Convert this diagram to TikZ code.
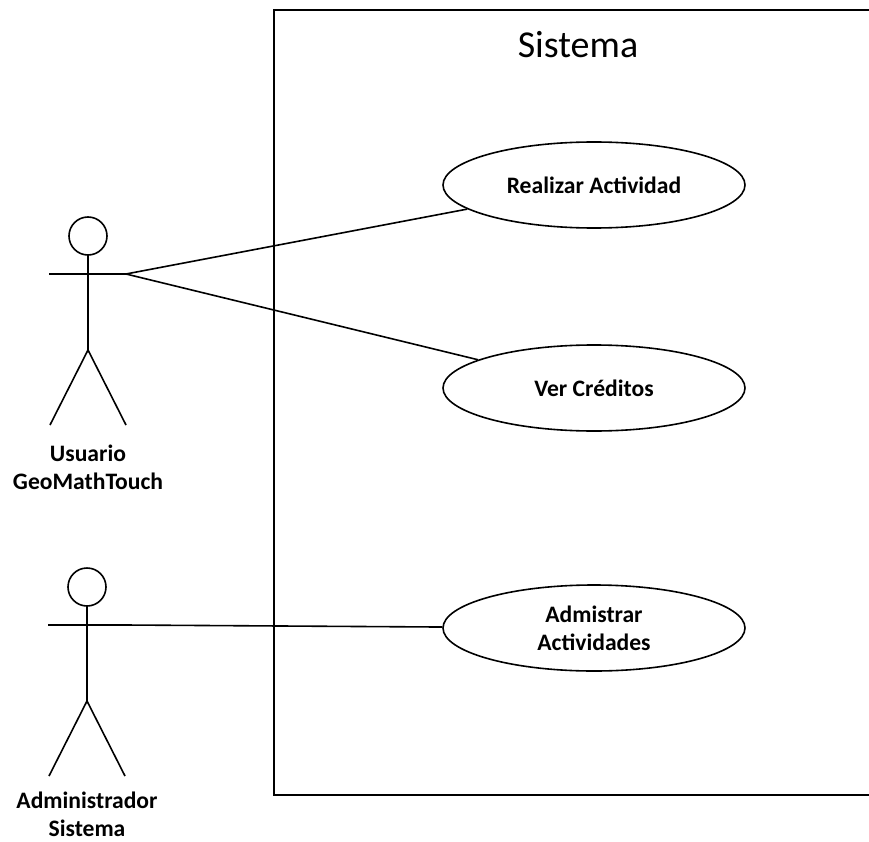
\documentclass[tikz,border=0pt]{standalone}
\usepackage{fontspec}
\setmainfont{Carlito}
\usetikzlibrary{shapes.geometric}
\begin{document}
\begin{tikzpicture}[x=1pt, y=-1pt, line width=1.6pt,
  usecase/.style={draw, ellipse, minimum width=302pt, minimum height=86pt,
    inner sep=0pt, align=center, font=\fontsize{23.6}{28}\selectfont\bfseries},
  actorlabel/.style={align=center, inner sep=0pt, font=\fontsize{23.6}{28}\selectfont\bfseries},
  boundary/.style={line width=2pt},
  assoc/.style={line width=1.6pt},
  actor/.pic={
    \draw (0,-38) circle (19);
    \draw (0,-19) -- (0,76);
    \draw (-39,0) -- (38,0);
    \draw (-38,151) -- (0,76) -- (38,151);
    \coordinate (-hand) at (38,0);
  }]
\useasboundingbox (0,0) rectangle (869,842);

% system boundary (open on the right side)
\draw[boundary] (869,10) -- (274,10) -- (274,795) -- (869,795);
\node[font=\fontsize{38}{42}\selectfont] (title) at (578,45) {Sistema};

% use cases
\node[usecase] (realizar) at (594,185) {Realizar Actividad};
\node[usecase] (creditos) at (594,388) {Ver Créditos};
\node[usecase] (admin) at (594,628) {Admistrar\\Actividades};

% actors
\pic (usr) at (88,274) {actor};
\node[actorlabel] (usrlabel) at (88,467) {Usuario\\GeoMathTouch};

\pic (adm) at (87,625) {actor};
\node[actorlabel] (admlabel) at (87,814) {Administrador\\Sistema};

% associations
\draw[assoc] (usr-hand) -- (realizar);
\draw[assoc] (usr-hand) -- (creditos);
\draw[assoc] (adm-hand) -- (admin);
\end{tikzpicture}
\end{document}
